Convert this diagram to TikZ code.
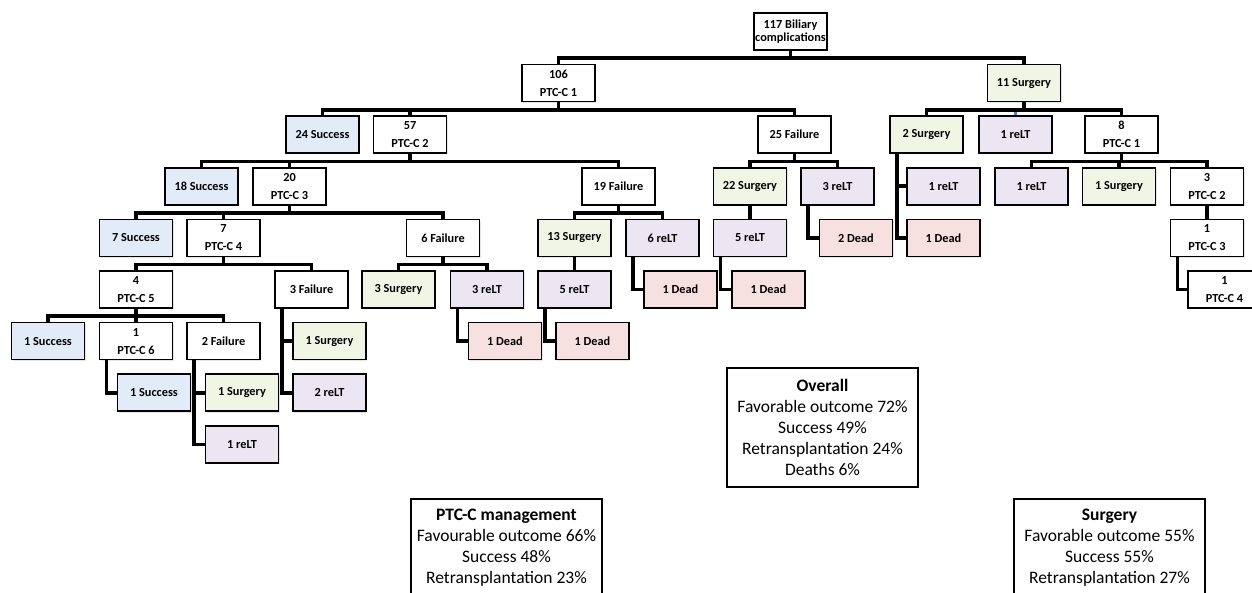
\documentclass[tikz,border=0pt]{standalone}
\usepackage{fontspec}
\setmainfont{Carlito}
\usepackage{tikz}
\usetikzlibrary{shadows}
\definecolor{succfill}{HTML}{E2ECF8}
\definecolor{surgfill}{HTML}{F1F5E4}
\definecolor{reltfill}{HTML}{EBE6F2}
\definecolor{deadfill}{HTML}{F7E1E0}
\definecolor{linkblue}{HTML}{4F81BD}
\tikzset{
  node_box/.style={draw=black,line width=1.7pt,fill=white,minimum width=73pt,minimum height=37pt,
    inner sep=0pt,align=center,font=\bfseries\fontsize{12.3}{18}\selectfont,
    drop shadow={shadow xshift=1.3pt,shadow yshift=-1.3pt,opacity=0.2}},
  node_succ/.style={node_box,fill=succfill},
  node_surg/.style={node_box,fill=surgfill},
  node_relt/.style={node_box,fill=reltfill},
  node_dead/.style={node_box,fill=deadfill},
  node_sum/.style={draw=black,line width=1.7pt,fill=white,minimum width=191pt,
    inner xsep=0pt,inner ysep=10pt,align=center,font=\fontsize{17.5}{21}\selectfont,
    drop shadow={shadow xshift=1.3pt,shadow yshift=-1.3pt,opacity=0.2}},
  link/.style={draw=black,line width=3.6pt},
  link_blue/.style={draw=linkblue,line width=3pt},
}
\begin{document}
\begin{tikzpicture}[x=1pt,y=-1pt]
  \useasboundingbox (0,0) rectangle (1252,593);
  \clip (0,0) rectangle (1252,593);
  \fill[white] (0,0) rectangle (1252,593);

  \node[node_box,font=\bfseries\fontsize{12.3}{13}\selectfont] (root) at (790.5,31.5) {117 Biliary\\complications};

  \node[node_box]  (ptc1)   at (558.5,83.1) {106\\PTC-C 1};
  \node[node_surg] (surg11) at (1024,83.1)  {11 Surgery};

  \node[node_succ] (succ24) at (322.5,134.7)  {24 Success};
  \node[node_box]  (ptc2)   at (410,134.7)    {57\\PTC-C 2};
  \node[node_box]  (fail25) at (794.5,134.7)  {25 Failure};
  \node[node_surg] (surg2)  at (926.5,134.7)  {2 Surgery};
  \node[node_relt] (relt1a) at (1015.5,134.7) {1 reLT};
  \node[node_box]  (ptcr1)  at (1121.5,134.7) {8\\PTC-C 1};

  \node[node_succ] (succ18) at (201.5,186.3)  {18 Success};
  \node[node_box]  (ptc3)   at (289.5,186.3)  {20\\PTC-C 3};
  \node[node_box]  (fail19) at (618.5,186.3)  {19 Failure};
  \node[node_surg] (surg22) at (750,186.3)    {22 Surgery};
  \node[node_relt] (relt3a) at (837.5,186.3)  {3 reLT};
  \node[node_relt] (relt1b) at (943.5,186.3)  {1 reLT};
  \node[node_relt] (relt1c) at (1031.5,186.3) {1 reLT};
  \node[node_surg] (surg1a) at (1119,186.3)   {1 Surgery};
  \node[node_box]  (ptcr2)  at (1207,186.3)   {3\\PTC-C 2};

  \node[node_succ] (succ7)  at (136,237.9)    {7 Success};
  \node[node_box]  (ptc4)   at (223.5,237.9)  {7\\PTC-C 4};
  \node[node_box]  (fail6)  at (443,237.9)    {6 Failure};
  \node[node_surg] (surg13) at (574.5,237.9)  {13 Surgery};
  \node[node_relt] (relt6)  at (662.5,237.9)  {6 reLT};
  \node[node_relt] (relt5a) at (750,237.9)    {5 reLT};
  \node[node_dead] (dead2)  at (856,237.9)    {2 Dead};
  \node[node_dead] (dead1a) at (943.5,237.9)  {1 Dead};
  \node[node_box]  (ptcr3)  at (1207,237.9)   {1\\PTC-C 3};

  \node[node_box]  (ptc5)   at (136,289.5)    {4\\PTC-C 5};
  \node[node_box]  (fail3)  at (311.5,289.5)  {3 Failure};
  \node[node_surg] (surg3)  at (398.5,289.5)  {3 Surgery};
  \node[node_relt] (relt3b) at (487,289.5)    {3 reLT};
  \node[node_relt] (relt5b) at (574.5,289.5)  {5 reLT};
  \node[node_dead] (dead1b) at (680.5,289.5)  {1 Dead};
  \node[node_dead] (dead1c) at (768.5,289.5)  {1 Dead};
  \node[node_box]  (ptcr4)  at (1224.5,289.5) {1\\PTC-C 4};

  \node[node_succ] (succ1a) at (48,341.1)     {1 Success};
  \node[node_box]  (ptc6)   at (136,341.1)    {1\\PTC-C 6};
  \node[node_box]  (fail2)  at (223.5,341.1)  {2 Failure};
  \node[node_surg] (surg1b) at (329.5,341.1)  {1 Surgery};
  \node[node_dead] (dead1d) at (505,341.1)    {1 Dead};
  \node[node_dead] (dead1e) at (592.5,341.1)  {1 Dead};

  \node[node_succ] (succ1b) at (154,392.7)    {1 Success};
  \node[node_surg] (surg1c) at (242,392.7)    {1 Surgery};
  \node[node_relt] (relt2)  at (329.5,392.7)  {2 reLT};

  \node[node_relt] (relt1d) at (242,444.3)    {1 reLT};

  \node[node_sum,minimum height=119pt] (sum_all) at (822.5,427.5)
    {\textbf{Overall}\\Favorable outcome 72\%\\Success 49\%\\Retransplantation 24\%\\Deaths 6\%};
  \node[node_sum,anchor=north,text depth=80pt] (sum_ptc) at (506.5,498)
    {\textbf{PTC-C management}\\Favourable outcome 66\%\\Success 48\%\\Retransplantation 23\%};
  \node[node_sum,anchor=north,text depth=80pt] (sum_surg) at (1109.5,498)
    {\textbf{Surgery}\\Favorable outcome 55\%\\Success 55\%\\Retransplantation 27\%};

  \draw[link_blue] (surg11.south) -- ++(0,-7.3pt) -| (relt1a.north);
  \foreach \src/\dst in {root/ptc1,root/surg11,ptc1/succ24,ptc1/ptc2,ptc1/fail25,
      surg11/surg2,surg11/ptcr1,ptc2/succ18,ptc2/ptc3,ptc2/fail19,fail25/surg22,fail25/relt3a,
      ptcr1/relt1c,ptcr1/surg1a,ptcr1/ptcr2,ptc3/succ7,ptc3/ptc4,ptc3/fail6,fail19/surg13,fail19/relt6,
      ptc4/ptc5,ptc4/fail3,fail6/surg3,fail6/relt3b,ptc5/succ1a,ptc5/ptc6,ptc5/fail2}
    \draw[link] (\src.south) -- ++(0,-7.3pt) -| (\dst.north);
  \draw[link] (surg22)--(relt5a); \draw[link] (ptcr2)--(ptcr3); \draw[link] (surg13)--(relt5b);
  \foreach \src/\dst in {surg2/relt1b,surg2/dead1a,relt3a/dead2,relt5a/dead1c,relt6/dead1b,
      relt5b/dead1e,relt3b/dead1d,fail3/surg1b,fail3/relt2,ptc6/succ1b,fail2/surg1c,fail2/relt1d,ptcr3/ptcr4}
    \draw[link] ([xshift=8pt]\src.south west) |- (\dst.west);
\end{tikzpicture}
\end{document}
